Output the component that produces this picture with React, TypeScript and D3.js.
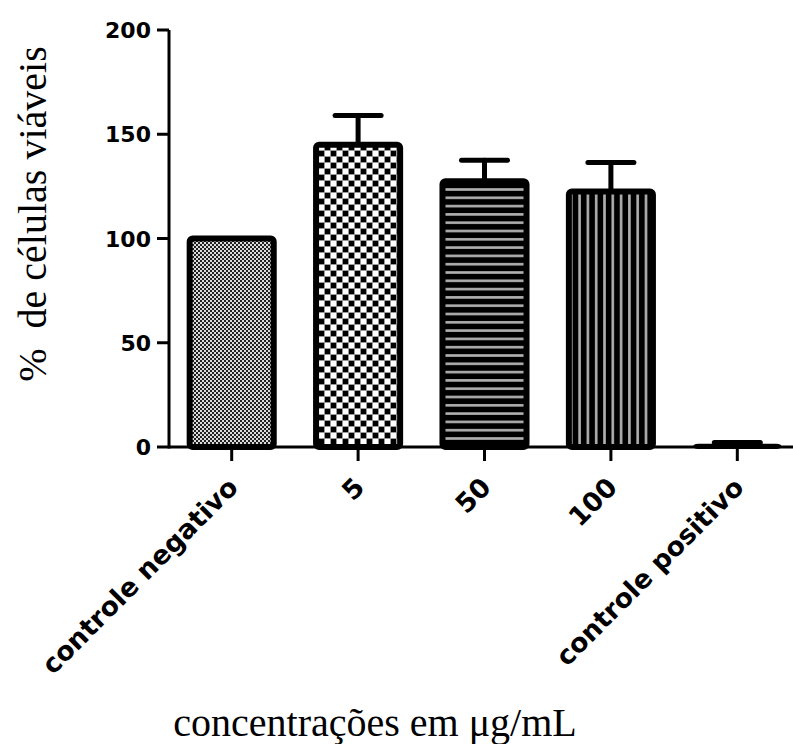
import React from 'react'
import * as d3 from 'd3'

const categories = ['controle negativo', '5', '50', '100', 'controle positivo']
const values = [100, 145, 127.5, 122.5, 0.6]
const errors = [0, 14, 10, 14, 1.6]
const patterns = ['fineChecker', 'checker', 'hLines', 'vLines', 'solid']
const yTicks = [0, 50, 100, 150, 200]

const W = 793
const H = 744

function App() {
  const x = d3
    .scaleBand()
    .domain(categories)
    .range([169, 800])
    .paddingInner(0.335)
    .paddingOuter(0.1635)
  const y = d3.scaleLinear().domain([0, 200]).range([447, 30])
  const bw = x.bandwidth()
  const capW = 46

  return (
    <svg width={W} height={H} style={{ display: 'block', position: 'absolute', left: 0, top: 0 }}>
      <defs>
        <pattern id="fineChecker" patternUnits="userSpaceOnUse" width={4} height={4}>
          <rect width={4} height={4} fill="#dcdcdc" />
          <rect x={0} y={0} width={2} height={2} fill="#222" />
          <rect x={2} y={2} width={2} height={2} fill="#222" />
        </pattern>
        <pattern id="checker" patternUnits="userSpaceOnUse" width={12} height={12}>
          <rect width={12} height={12} fill="#fff" />
          <rect x={0} y={0} width={6} height={6} fill="#000" />
          <rect x={6} y={6} width={6} height={6} fill="#000" />
          <path d="M0,0.5H12M0,6.5H12M0.5,0V12M6.5,0V12" stroke="#999" strokeWidth={1} />
        </pattern>
        <pattern id="hLines" patternUnits="userSpaceOnUse" width={8} height={8.3}>
          <rect width={8} height={8.3} fill="#000" />
          <rect x={0} y={5.6} width={8} height={2.6} fill="#b0b0b0" />
        </pattern>
        <pattern id="vLines" patternUnits="userSpaceOnUse" width={8.3} height={8}>
          <rect width={8.3} height={8} fill="#000" />
          <rect x={5.6} y={0} width={2.6} height={8} fill="#b0b0b0" />
        </pattern>
      </defs>

      {/* bars */}
      {categories.map((c, i) => (
        <rect
          key={c}
          x={x(c)}
          y={y(values[i])}
          width={bw}
          height={y(0) - y(values[i])}
          rx={3}
          fill={patterns[i] === 'solid' ? '#000' : `url(#${patterns[i]})`}
          stroke="#000"
          strokeWidth={patterns[i] === 'solid' ? 4 : 6}
        />
      ))}

      {/* error bars */}
      {categories.map((c, i) =>
        errors[i] > 0 ? (
          <g key={c} stroke="#000" strokeWidth={5} strokeLinecap="round">
            <line
              x1={x(c)! + bw / 2}
              x2={x(c)! + bw / 2}
              y1={y(values[i])}
              y2={y(values[i] + errors[i])}
            />
            <line
              x1={x(c)! + bw / 2 - capW / 2}
              x2={x(c)! + bw / 2 + capW / 2}
              y1={y(values[i] + errors[i])}
              y2={y(values[i] + errors[i])}
            />
          </g>
        ) : null
      )}

      {/* y axis */}
      <line x1={169} x2={169} y1={y(200)} y2={y(0) + 1.5} stroke="#000" strokeWidth={3} />
      {yTicks.map(t => (
        <g key={t}>
          <line x1={157} x2={169} y1={y(t)} y2={y(t)} stroke="#000" strokeWidth={3} />
          <text
            x={151}
            y={y(t)}
            dy="0.37em"
            textAnchor="end"
            fontFamily="DejaVu Sans"
            fontWeight="bold"
            fontSize={22}
          >
            {t}
          </text>
        </g>
      ))}

      {/* x axis */}
      <line x1={169} x2={W} y1={y(0)} y2={y(0)} stroke="#000" strokeWidth={3} />
      {categories.map(c => {
        const cx = x(c)! + bw / 2
        return (
          <g key={c}>
            <line x1={cx} x2={cx} y1={y(0)} y2={461} stroke="#000" strokeWidth={3} />
            <text
              transform={`translate(${cx + 8},489) rotate(-45)`}
              textAnchor="end"
              fontFamily="DejaVu Sans"
              fontWeight="bold"
              fontSize={26.5}
            >
              {c}
            </text>
          </g>
        )
      })}

      {/* axis titles */}
      <text
        transform="translate(46,214) rotate(-90)"
        textAnchor="middle"
        fontFamily="Liberation Serif"
        fontSize={40}
        style={{ whiteSpace: 'pre' }}
      >
        {'%  de células viáveis'}
      </text>
      <text
        x={375}
        y={736}
        textAnchor="middle"
        fontFamily="Liberation Serif"
        fontSize={40}
      >
        concentrações em μg/mL
      </text>
    </svg>
  )
}

export default App
